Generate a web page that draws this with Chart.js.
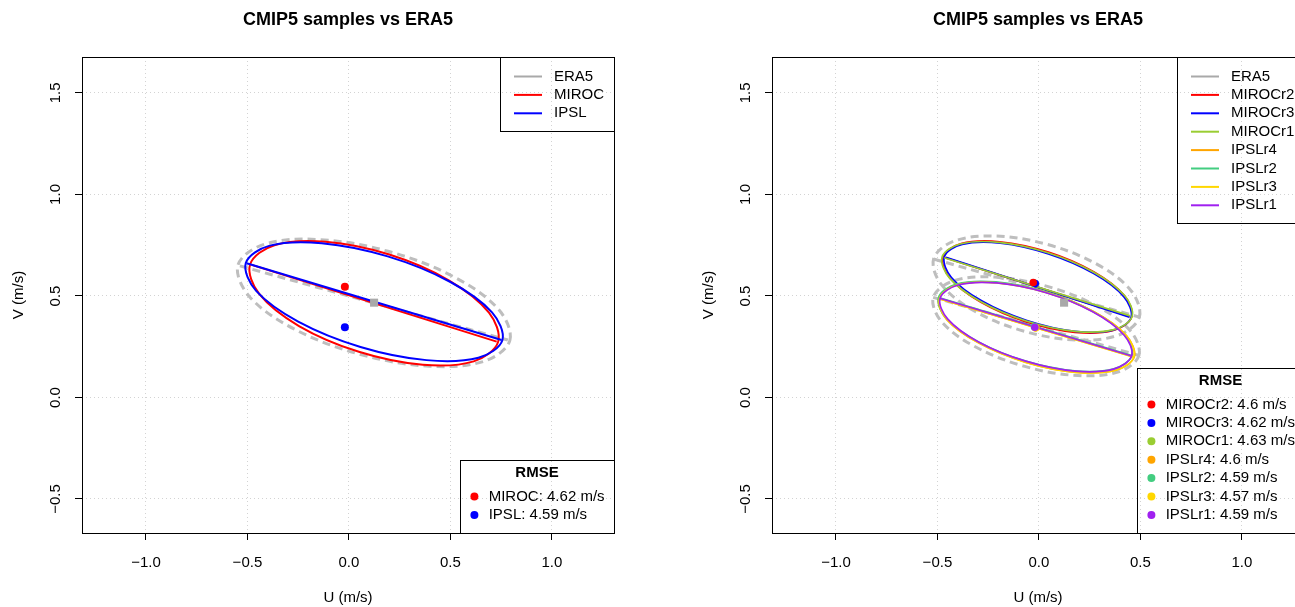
<!DOCTYPE html>
<html lang="en">
<head>
<meta charset="utf-8">
<title>CMIP5 samples vs ERA5</title>
<script src="https://cdn.jsdelivr.net/npm/chart.js@4.4.1/dist/chart.umd.min.js"></script>
<style>
  html, body { margin: 0; padding: 0; background: #ffffff; overflow: hidden; }
  #wrap { position: relative; width: 1295px; height: 607px; overflow: hidden; background: #ffffff; }
  #wrap canvas { position: absolute; top: 0; }
</style>
</head>
<body>
<div id="wrap">
  <canvas id="leftChart" width="690" height="607" style="left:0"></canvas>
  <canvas id="rightChart" width="630" height="607" style="left:690px"></canvas>
</div>
<script>
// Axis set-up (shared by both panels)
const xTicks = [-1.0, -0.5, 0.0, 0.5, 1.0];
const yTicks = [-0.5, 0.0, 0.5, 1.0, 1.5];
const xLimits = [-1.315, 1.306];
const yLimits = [-0.6675, 1.677];

// ERA5 mean wind (grey square)
const era5Mean = [[0.124, 0.467]];

// Left panel: one member per model
const leftModels = ['MIROC', 'IPSL'];
const leftColors = ['#FF0000', '#0000FF'];
const leftRmse = [4.62, 4.59];
const leftMeans = [[-0.020, 0.546], [-0.020, 0.346]];
const leftEra5Ellipse = [[0.793,0.281],[0.738,0.433],[0.519,0.593],[0.193,0.720],[-0.151,0.778],[-0.422,0.753],
  [-0.547,0.651],[-0.492,0.499],[-0.273,0.339],[0.053,0.213],[0.397,0.154],[0.668,0.179]];
const leftEra5Line = [[-0.537, 0.648], [0.783, 0.283]];
const leftEllipses = [
  [[0.735,0.273],[0.690,0.418],[0.494,0.576],[0.199,0.704],[-0.116,0.767],[-0.367,0.750],
   [-0.487,0.655],[-0.442,0.510],[-0.246,0.352],[0.049,0.225],[0.364,0.161],[0.615,0.178]],
  [[0.756,0.282],[0.705,0.419],[0.498,0.570],[0.191,0.695],[-0.134,0.760],[-0.390,0.748],
   [-0.508,0.662],[-0.457,0.525],[-0.250,0.374],[0.057,0.249],[0.382,0.184],[0.638,0.196]]
];
const leftLines = [
  [[-0.479, 0.653], [0.728, 0.275]],
  [[-0.504, 0.661], [0.752, 0.283]]
];

// Right panel: several runs per model
const rightModels = ['MIROCr2', 'MIROCr3', 'MIROCr1', 'IPSLr4', 'IPSLr2', 'IPSLr3', 'IPSLr1'];
const rightColors = ['#FF0000', '#0000FF', '#9ACD32', '#FFA500', '#43CD80', '#FFD700', '#A020F0'];
const rightRmse = [4.6, 4.62, 4.63, 4.6, 4.59, 4.57, 4.59];
const rightMeans = [[-0.028, 0.566], [-0.018, 0.561], [-0.022, 0.562],
  [-0.017, 0.344], [-0.022, 0.348], [-0.016, 0.343], [-0.020, 0.346]];
const rightEra5Ellipses = [
  [[0.495,0.396],[0.457,0.522],[0.294,0.652],[0.048,0.752],[-0.214,0.795],[-0.421,0.769],
   [-0.519,0.682],[-0.481,0.557],[-0.318,0.426],[-0.072,0.326],[0.190,0.283],[0.397,0.309]],
  [[0.493,0.207],[0.453,0.325],[0.288,0.449],[0.042,0.547],[-0.219,0.593],[-0.425,0.573],
   [-0.521,0.493],[-0.481,0.375],[-0.316,0.251],[-0.070,0.153],[0.191,0.108],[0.397,0.128]]
];
const rightEra5Lines = [
  [[-0.519, 0.682], [0.495, 0.396]],
  [[-0.521, 0.493], [0.493, 0.207]]
];
const rightEllipses = [
  [[0.457,0.396],[0.422,0.501],[0.272,0.618],[0.047,0.716],[-0.193,0.767],[-0.383,0.758],
   [-0.473,0.692],[-0.438,0.587],[-0.288,0.470],[-0.063,0.372],[0.177,0.321],[0.367,0.330]],
  [[0.454,0.393],[0.419,0.495],[0.270,0.610],[0.047,0.707],[-0.190,0.760],[-0.378,0.754],
   [-0.466,0.693],[-0.431,0.591],[-0.282,0.476],[-0.059,0.379],[0.178,0.326],[0.366,0.332]],
  [[0.459,0.399],[0.422,0.502],[0.270,0.617],[0.044,0.713],[-0.197,0.764],[-0.388,0.756],
   [-0.477,0.692],[-0.440,0.588],[-0.288,0.473],[-0.062,0.377],[0.179,0.326],[0.370,0.334]],
  [[0.470,0.200],[0.431,0.305],[0.274,0.421],[0.040,0.517],[-0.208,0.566],[-0.403,0.557],
   [-0.494,0.490],[-0.455,0.385],[-0.298,0.269],[-0.064,0.173],[0.184,0.124],[0.379,0.134]],
  [[0.458,0.207],[0.420,0.311],[0.264,0.425],[0.033,0.520],[-0.212,0.569],[-0.405,0.559],
   [-0.494,0.493],[-0.456,0.389],[-0.300,0.275],[-0.069,0.180],[0.176,0.131],[0.369,0.141]],
  [[0.468,0.200],[0.430,0.305],[0.273,0.420],[0.041,0.515],[-0.206,0.564],[-0.400,0.555],
   [-0.490,0.488],[-0.452,0.383],[-0.295,0.268],[-0.063,0.173],[0.184,0.124],[0.378,0.134]],
  [[0.457,0.205],[0.419,0.308],[0.265,0.422],[0.036,0.516],[-0.207,0.564],[-0.398,0.554],
   [-0.487,0.489],[-0.449,0.386],[-0.295,0.272],[-0.066,0.179],[0.177,0.130],[0.368,0.140]]
];
const rightLines = [
  [[-0.463, 0.689], [0.448, 0.398]],
  [[-0.458, 0.690], [0.446, 0.396]],
  [[-0.467, 0.688], [0.450, 0.402]],
  [[-0.492, 0.487], [0.466, 0.200]],
  [[-0.494, 0.492], [0.458, 0.207]],
  [[-0.488, 0.485], [0.464, 0.200]],
  [[-0.488, 0.489], [0.457, 0.204]]
];
// drawing order of the mean dots (last one ends up on top)
const rightDotOrder = [2, 1, 0, 3, 4, 5, 6];

const FONT = '"Liberation Sans", Arial, Helvetica, sans-serif';
const ERA5_DASHED = '#BEBEBE';
const ERA5_KEY = '#A9A9A9';

Chart.defaults.font.family = FONT;
Chart.defaults.color = '#000000';

// Line controller that closes its path, so ellipses get a smooth closed curve
class LoopController extends Chart.LineController {
  update(mode) {
    super.update(mode);
    const line = this._cachedMeta.dataset;
    line._loop = true;
    line._fullLoop = true;
  }
}
LoopController.id = 'loop';
LoopController.defaults = Object.assign({}, Chart.LineController.defaults);
LoopController.overrides = {};
Chart.register(LoopController);

function pts(pairs) {
  return pairs.map(p => ({ x: p[0], y: p[1] }));
}

function ellipseSet(pairs, color, width, dash) {
  return { type: 'loop', data: pts(pairs), borderColor: color, borderWidth: width,
    borderDash: dash || [], tension: 0.35, pointRadius: 0, fill: false };
}

function segmentSet(pairs, color, width, dash) {
  return { type: 'scatter', showLine: true, data: pts(pairs), borderColor: color,
    borderWidth: width, borderDash: dash || [], pointRadius: 0, tension: 0, fill: false };
}

function markerSet(pairs, color, style, radius) {
  return { type: 'scatter', data: pts(pairs), backgroundColor: color, borderColor: color,
    borderWidth: 0, pointStyle: style, pointRadius: radius, showLine: false };
}

// Stack order: first in list is drawn at the bottom
function stacked(list) {
  list.forEach((d, i) => { d.order = list.length - i; });
  return list;
}

function tickLabel(v) {
  const s = Math.abs(v).toFixed(1);
  return v < 0 ? '\u2212' + s : s;
}

function scaleOptions() {
  const tickFont = { family: FONT, size: 15 };
  const grid = { color: '#D3D3D3', lineWidth: 1, drawTicks: true, tickLength: 7,
    tickColor: '#000000', tickWidth: 1, tickBorderDash: [] };
  return {
    x: {
      type: 'linear', position: 'bottom', min: xLimits[0], max: xLimits[1],
      afterBuildTicks: s => { s.ticks = xTicks.map(v => ({ value: v })); },
      afterFit: s => { s.height = 74; },
      ticks: { font: tickFont, color: '#000000', padding: 14, autoSkip: false,
        minRotation: 0, maxRotation: 0, callback: tickLabel },
      grid: grid,
      border: { display: false, dash: [1, 3] },
      title: { display: true, text: 'U (m/s)', font: tickFont, color: '#000000', padding: { top: 0, bottom: 0 } }
    },
    y: {
      type: 'linear', position: 'left', min: yLimits[0], max: yLimits[1],
      afterBuildTicks: s => { s.ticks = yTicks.map(v => ({ value: v })); },
      afterFit: s => { s.width = 82; },
      ticks: { font: tickFont, color: '#000000', padding: 4, autoSkip: false,
        minRotation: 90, maxRotation: 90, crossAlign: 'center', callback: tickLabel },
      grid: grid,
      border: { display: false, dash: [1, 3] },
      title: { display: true, text: 'V (m/s)', font: tickFont, color: '#000000', padding: { top: 10, bottom: 0 } }
    }
  };
}

// Frame, title and the two R-style legends
function makeDecor(cfg) {
  return {
    id: 'decor',
    afterDatasetsDraw(chart) {
      const { ctx, chartArea: a } = chart;
      ctx.save();
      ctx.strokeStyle = '#000000';
      ctx.lineWidth = 1;
      ctx.strokeRect(Math.round(a.left) + 0.5, Math.round(a.top) + 0.5,
        Math.round(a.right - a.left), Math.round(a.bottom - a.top));
      ctx.restore();
    },
    afterDraw(chart) {
      const { ctx, chartArea: a } = chart;
      ctx.save();
      ctx.fillStyle = '#000000';
      ctx.textBaseline = 'middle';

      // title
      ctx.font = 'bold 18px ' + FONT;
      ctx.textAlign = 'center';
      ctx.fillText(cfg.title, (a.left + a.right) / 2, 20);

      // line legend (top right)
      ctx.font = '15px ' + FONT;
      const names = ['ERA5'].concat(cfg.models);
      const cols = [ERA5_KEY].concat(cfg.colors);
      const w1 = 54 + Math.max(...names.map(n => ctx.measureText(n).width)) + 10;
      const h1 = 19.5 + (names.length - 1) * 18.4 + 17.5;
      const x1 = Math.round(a.right - w1);
      const y1 = Math.round(a.top);
      ctx.strokeStyle = '#000000';
      ctx.lineWidth = 1;
      ctx.strokeRect(x1 + 0.5, y1 + 0.5, Math.round(a.right) - x1, Math.round(h1));
      ctx.textAlign = 'left';
      names.forEach((n, i) => {
        const y = y1 + 19.5 + i * 18.4;
        ctx.strokeStyle = cols[i];
        ctx.lineWidth = 2;
        ctx.beginPath();
        ctx.moveTo(x1 + 14, y);
        ctx.lineTo(x1 + 42, y);
        ctx.stroke();
        ctx.fillText(n, x1 + 54, y);
      });

      // RMSE legend (bottom right)
      const labels = cfg.models.map((m, i) => m + ': ' + cfg.rmse[i] + ' m/s');
      const w2 = 29 + Math.max(...labels.map(t => ctx.measureText(t).width)) + 9;
      const h2 = 36.5 + (labels.length - 1) * 18.4 + 18;
      const x2 = Math.round(a.right - w2);
      const y2 = Math.round(a.bottom - h2);
      ctx.strokeStyle = '#000000';
      ctx.lineWidth = 1;
      ctx.strokeRect(x2 + 0.5, y2 + 0.5, Math.round(a.right) - x2, Math.round(a.bottom) - y2);
      labels.forEach((t, i) => {
        const y = y2 + 36.5 + i * 18.4;
        ctx.fillStyle = cfg.colors[i];
        ctx.beginPath();
        ctx.arc(x2 + 14.4, y, 4, 0, Math.PI * 2);
        ctx.fill();
        ctx.fillStyle = '#000000';
        ctx.textAlign = 'left';
        ctx.fillText(t, x2 + 28.7, y);
      });
      ctx.font = 'bold 15px ' + FONT;
      ctx.textAlign = 'center';
      ctx.fillText('RMSE', (x2 + Math.round(a.right)) / 2, y2 + 12.7);
      ctx.restore();
    }
  };
}

function panelOptions(padRight) {
  return {
    responsive: false,
    animation: false,
    events: [],
    layout: { autoPadding: false, padding: { left: 0, top: 57, right: padRight, bottom: 0 } },
    plugins: { legend: { display: false }, tooltip: { enabled: false }, title: { display: false } },
    scales: scaleOptions()
  };
}

// ---- left panel ----
const leftSets = [
  ellipseSet(leftEra5Ellipse, ERA5_DASHED, 3, [8, 5]),
  segmentSet(leftEra5Line, ERA5_DASHED, 3, [8, 5])
];
leftModels.forEach((m, i) => {
  leftSets.push(ellipseSet(leftEllipses[i], leftColors[i], 2));
  leftSets.push(segmentSet(leftLines[i], leftColors[i], 2));
});
leftSets.push(markerSet(era5Mean, ERA5_KEY, 'rect', 5.7));
leftModels.forEach((m, i) => {
  leftSets.push(markerSet([leftMeans[i]], leftColors[i], 'circle', 4));
});

new Chart(document.getElementById('leftChart'), {
  type: 'scatter',
  data: { datasets: stacked(leftSets) },
  options: panelOptions(76),
  plugins: [makeDecor({ title: 'CMIP5 samples vs ERA5', models: leftModels, colors: leftColors, rmse: leftRmse })]
});

// ---- right panel ----
const rightSets = [];
rightEra5Ellipses.forEach(e => rightSets.push(ellipseSet(e, ERA5_DASHED, 3, [8, 5])));
rightEra5Lines.forEach(l => rightSets.push(segmentSet(l, ERA5_DASHED, 3, [8, 5])));
rightModels.forEach((m, i) => {
  rightSets.push(ellipseSet(rightEllipses[i], rightColors[i], 1.7));
  rightSets.push(segmentSet(rightLines[i], rightColors[i], 1.7));
});
rightSets.push(markerSet(era5Mean, ERA5_KEY, 'rect', 5.7));
rightDotOrder.forEach(i => {
  rightSets.push(markerSet([rightMeans[i]], rightColors[i], 'circle', 3.8));
});

new Chart(document.getElementById('rightChart'), {
  type: 'scatter',
  data: { datasets: stacked(rightSets) },
  options: panelOptions(16),
  plugins: [makeDecor({ title: 'CMIP5 samples vs ERA5', models: rightModels, colors: rightColors, rmse: rightRmse })]
});
</script>
</body>
</html>
